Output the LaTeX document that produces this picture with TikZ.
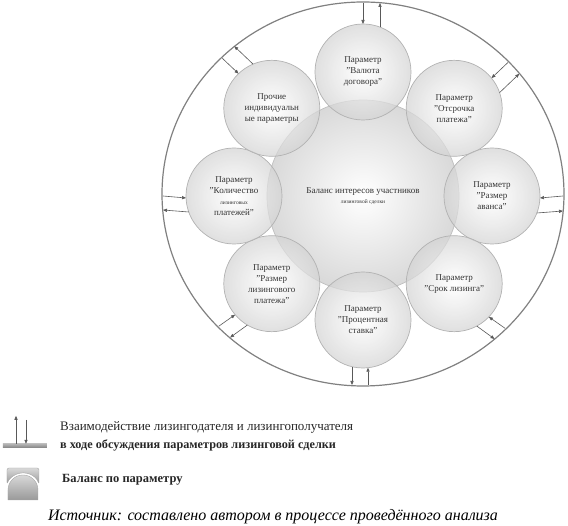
\documentclass[tikz,border=0pt]{standalone}
\usepackage{fontspec}
\setmainfont{Liberation Serif}
\usetikzlibrary{calc,shapes.geometric,arrows.meta}
\newcommand{\tinyword}[1]{{\fontsize{5.5}{6}\selectfont #1}}
\tikzset{
ball/.style={circle,draw=black!30,line width=0.7pt,minimum size=96pt,inner sep=0pt,align=center,
inner color=white,outer color=black!17,fill opacity=0.72,text opacity=1,
font=\fontsize{9}{11}\selectfont,text=black!80},
bigball/.style={circle,draw=black!25,line width=0.7pt,minimum size=192pt,inner sep=0pt,align=center,
inner color=white,outer color=black!15,font=\fontsize{9}{9}\selectfont,text=black!80},
rim/.style={ellipse,draw=black!50,line width=1.2pt,minimum width=402pt,minimum height=384pt,inner sep=0pt},
linkarrow/.style={-{Triangle[length=4pt,width=3.2pt]},black!65,line width=0.6pt},
ground/.style={rectangle,minimum width=44pt,minimum height=4pt,inner sep=0pt,top color=black!30,bottom color=black!50},
legend/.style={anchor=west,inner sep=0pt,text=black!85},
note/.style={inner sep=0pt,font=\fontsize{16}{17}\selectfont\itshape}
}
\begin{document}
\begin{tikzpicture}[x=1pt,y=1pt]
\useasboundingbox (-363,-330) rectangle (205,196);
\node[rim] (outer) at (0,2) {};
\node[bigball] (balance) at (0,0) {Баланс интересов участников\\[1pt]\tinyword{лизинговой сделки}};
\node[ball] (valuta) at (90:129 and 124) {Параметр\\"Валюта\\договора"};
\node[ball] (otsr) at (45:129 and 124) {Параметр\\"Отсрочка\\платежа"};
\node[ball] (avans) at (0:129 and 124) {Параметр\\"Размер\\аванса"};
\node[ball] (srok) at (-45:129 and 124) {Параметр\\"Срок лизинга"};
\node[ball] (stavka) at (-90:129 and 124) {Параметр\\"Процентная\\ставка"};
\node[ball] (platezh) at (-135:129 and 124) {Параметр\\"Размер\\лизингового\\платежа"};
\node[ball] (kolvo) at (180:129 and 124) {Параметр\\"Количество\\\tinyword{лизинговых}\\платежей"};
\node[ball] (prochie) at (135:129 and 124) {Прочие\\индивидуальн\\ые параметры};
\foreach \a/\n/\di/\do in {90/valuta/0/-17,45/otsr/-5/-21,0/avans/-2/-17,-45/srok/1/-14,
-90/stavka/5/-11,-135/platezh/-4/12,180/kolvo/2/16,135/prochie/-1/-18}{
\draw[linkarrow] ($(outer.center)+(\a:200 and 191)+(\a+90:\di)$) -- ($(\n)+(\a:{sqrt(2304-(\di)*(\di))})+(\a+90:\di)$);
\draw[linkarrow] ($(\n)+(\a:{sqrt(2304-(\do)*(\do))})+(\a+90:\do)$) -- ($(outer.center)+(\a:200 and 191)+(\a+90:\do)$);
}
\node[ground] (base) at (-338,-250) {};
\draw[linkarrow] ($(base.north)+(-9,0)$) -- ($(base.north)+(-9,28)$);
\draw[linkarrow] ($(base.north)+(1,24)$) -- ($(base.north)+(1,0)$);
\node[legend,font=\fontsize{13}{14}\selectfont] (legA) at (-303,-231) {Взаимодействие лизингодателя и лизингополучателя};
\node[legend,font=\fontsize{12.2}{13}\selectfont\bfseries] (legB) at (-303,-249) {в ходе обсуждения параметров лизинговой сделки};
\draw[black!35,top color=black!15,bottom color=black!40,rounded corners=2pt]
(-356,-272) -- (-324,-272) -- (-324,-288) arc[start angle=20.6,end angle=159.4,radius=17.1] -- cycle;
\draw[black!35,top color=black!15,bottom color=black!40]
(-355,-304) -- (-355,-294) arc[start angle=180,end angle=0,radius=15] -- (-325,-304) -- cycle;
\node[legend,font=\fontsize{12.5}{13}\selectfont\bfseries] (legC) at (-301,-284) {Баланс по параметру};
\node[note] (source) at (-90,-321) {Источник: составлено автором в процессе проведённого анализа};
\end{tikzpicture}
\end{document}
